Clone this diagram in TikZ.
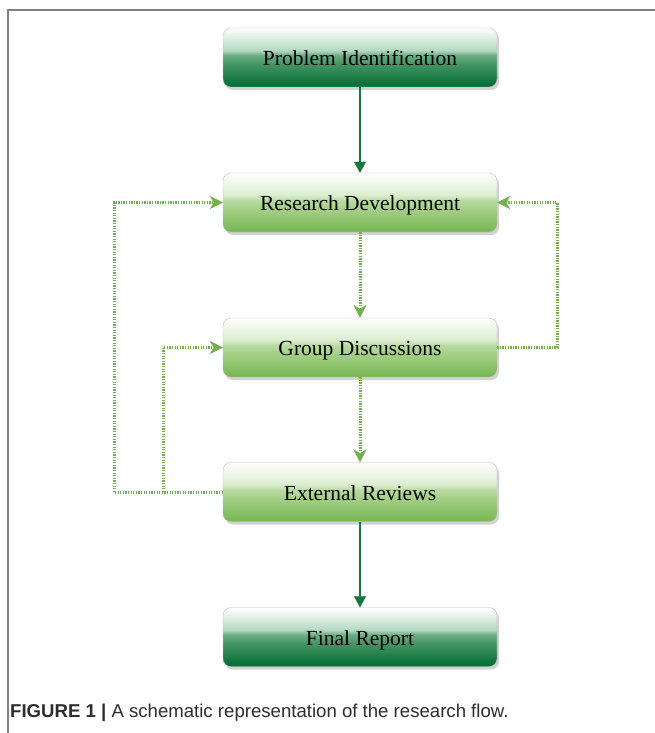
\documentclass[tikz,border=0pt]{standalone}
\usepackage{fontspec}
\setmainfont{Liberation Serif}
\newfontfamily\capfont{Liberation Sans}
\usetikzlibrary{arrows.meta,shadows}
\definecolor{dkgreen}{RGB}{0,108,52}
\definecolor{dkmid}{RGB}{70,150,100}
\definecolor{dklight}{RGB}{200,228,210}
\definecolor{ltgreen}{RGB}{118,182,82}
\definecolor{ltmid}{RGB}{165,208,135}
\definecolor{ltlight}{RGB}{232,244,225}
\definecolor{arrowdk}{RGB}{20,120,60}
\definecolor{dotgreen}{RGB}{115,175,80}
\definecolor{framegray}{RGB}{128,128,128}
\definecolor{captext}{RGB}{45,45,45}
\pgfdeclareverticalshading{darkgloss}{100bp}{color(0bp)=(dkgreen); color(25bp)=(dkgreen); color(45bp)=(dkmid); color(52bp)=(dkmid!70!dklight); color(56bp)=(dklight!85!dkmid); color(75bp)=(white); color(100bp)=(white)}
\pgfdeclareverticalshading{lightgloss}{100bp}{color(0bp)=(ltgreen); color(25bp)=(ltgreen); color(45bp)=(ltmid); color(52bp)=(ltmid!70!ltlight); color(56bp)=(ltlight!80!ltmid); color(75bp)=(white); color(100bp)=(white)}
\tikzset{
  box/.style={rectangle, rounded corners=8pt, minimum width=274pt, minimum height=59pt,
    draw=black!25, line width=0.4pt, font=\fontsize{21.5}{24}\selectfont,
    text depth=0pt, text height=16pt,
    drop shadow={opacity=0.35, shadow xshift=2pt, shadow yshift=-3pt}},
  darkbox/.style={box, shading=darkgloss},
  lightbox/.style={box, shading=lightgloss},
  solidarrow/.style={draw=arrowdk, line width=2.8pt, -{Triangle[length=11pt,width=12pt,line width=0.5pt]}},
  dotline/.style={draw=dotgreen, line width=3pt, dash pattern=on 1.3pt off 1.3pt},
  dotarrow/.style={dotline, -{Stealth[length=13pt,width=13pt,inset=4pt,line width=0.5pt,fill=dotgreen]}},
}
\begin{document}
\begin{tikzpicture}[x=1pt,y=-1pt]
\useasboundingbox (0,0) rectangle (655,733);
\fill[white] (0,0) rectangle (655,733);
\draw[framegray, line width=2pt] (7.5,733) -- (7.5,10.5) -- (655,10.5);
\node[darkbox]  (pi) at (360,57.5)  {Problem Identification};
\node[lightbox] (rd) at (360,202.5) {Research Development};
\node[lightbox] (gd) at (360,347.5) {Group Discussions};
\node[lightbox] (er) at (360,492)   {External Reviews};
\node[darkbox]  (fr) at (360,637)   {Final Report};
\draw[solidarrow] (pi) -- (rd);
\draw[solidarrow] (er) -- (fr);
\draw[dotarrow] (rd) -- (gd);
\draw[dotarrow] (gd) -- (er);
\coordinate (lo) at (114,492);
\coordinate (li) at (163,492);
\coordinate (ro) at (557,347.5);
\draw[dotline] (er.west) -- (lo);
\draw[dotarrow] (lo) |- (rd.west);
\draw[dotarrow] (li) |- (gd.west);
\draw[dotarrow] (gd.east) -- (ro) |- (rd.east);
\node[anchor=west, inner sep=0pt, text=captext, font=\capfont\fontsize{18.6}{22}\selectfont] (cap) at (10,713)
  {\textbf{FIGURE 1 |} A schematic representation of the research flow.};
\end{tikzpicture}
\end{document}
